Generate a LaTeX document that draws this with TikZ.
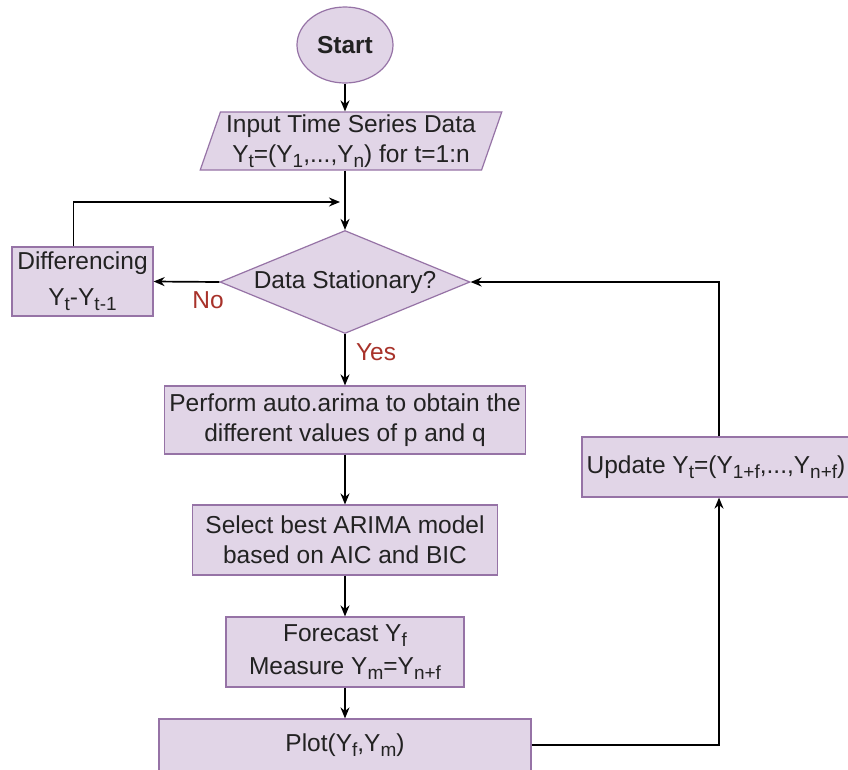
\documentclass[tikz,border=0pt]{standalone}
\usepackage{fontspec}
\setmainfont{Liberation Sans}
\usetikzlibrary{shapes.geometric,arrows.meta}
\definecolor{boxfill}{HTML}{E1D5E7}
\definecolor{boxline}{HTML}{9673A6}
\definecolor{lblred}{HTML}{A8322A}
\definecolor{txt}{HTML}{222222}
\newcommand{\sbx}[1]{\raisebox{-0.4ex}{\fontsize{19}{19}\selectfont #1}}
\begin{document}
\begin{tikzpicture}[x=1pt,y=-1pt,
  every node/.style={font=\fontsize{24.5}{30}\selectfont, text=txt},
  box/.style={draw=boxline, fill=boxfill, line width=1.2pt, inner sep=0pt, align=center},
  conn/.style={draw=black, line width=1.7pt, -{Stealth[length=11pt,width=9pt]}},
  lab/.style={text=lblred, inner sep=0pt}]
\useasboundingbox (0,0) rectangle (848,769);
\clip (0,0) rectangle (848,769);
\fill[white] (0,0) rectangle (848,769);

\node[box, ellipse, minimum width=96pt, minimum height=76pt, font=\fontsize{24.5}{30}\selectfont\bfseries] (start) at (345,45) {Start};

\node[box, trapezium, trapezium left angle=70, trapezium right angle=110, trapezium stretches=true, minimum width=302pt, minimum height=58pt] (inp) at (351,141)
  {Input Time Series Data\\ Y\sbx{t}=(Y\sbx{1},...,Y\sbx{n}) for t=1:n};

\node[box, diamond, aspect=2.43, minimum width=250pt, minimum height=103pt] (dec) at (345,282) {Data Stationary?};

\node[box, minimum width=141pt, minimum height=69pt] (diff) at (82.5,281.5)
  {Differencing\\[6pt] Y\sbx{t}-Y\sbx{t-1}};

\node[box, minimum width=361pt, minimum height=68pt] (perf) at (345,420)
  {Perform auto.arima to obtain the\\ different values of p and q};

\node[box, minimum width=305pt, minimum height=70pt] (sel) at (345,540)
  {Select best ARIMA model\\ based on AIC and BIC};

\node[box, minimum width=238pt, minimum height=70pt] (fc) at (345,652)
  {Forecast Y\sbx{f}\\[3pt] Measure Y\sbx{m}=Y\sbx{n+f}};

\node[box, minimum width=372pt, minimum height=52pt] (plot) at (345,745)
  {Plot(Y\sbx{f},Y\sbx{m})};

\node[box, minimum width=274pt, minimum height=60pt] (upd) at (719,467)
  {\hspace*{-6pt}Update Y\sbx{t}=(Y\sbx{1+f},...,Y\sbx{n+f})};

\coordinate (join) at (340,202);

\draw[conn] (start) -- (start |- inp.north);
\draw[conn] (inp.south -| dec.north) -- (dec.north);
\draw[conn] ([xshift=-9pt]diff.north) |- (join);
\draw[conn] (dec.west) -- (diff.east);
\draw[conn] (dec.south) -- (perf.north);
\draw[conn] (perf.south) -- (sel.north);
\draw[conn] (sel.south) -- (fc.north);
\draw[conn] (fc.south) -- (plot.north);
\draw[conn] (plot.east) -| (upd.south);
\draw[conn] (upd.north) |- (dec.east);

\node[lab] (no) at (208,300) {No};
\node[lab] (yes) at (376,352) {Yes};
\end{tikzpicture}
\end{document}
